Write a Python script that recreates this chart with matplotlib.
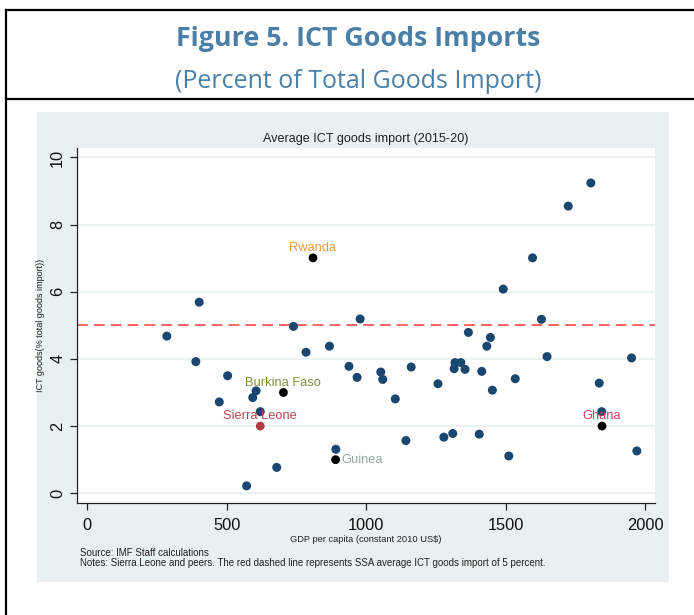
"""
ICT goods imports scatter, Sierra Leone and peers
"""

import matplotlib
matplotlib.use("Agg")
import matplotlib.pyplot as plt
from matplotlib.patches import Rectangle
from matplotlib.lines import Line2D

# peers (GDP per capita, ICT goods share of imports)
peer_gdp = [285, 401, 389, 503, 473, 605, 593, 620, 679, 571, 739, 784, 868,
            978, 938, 967, 891, 1052, 1059, 1161, 1104, 1142, 1257, 1318, 1339,
            1315, 1354, 1414, 1366, 1445, 1432, 1452, 1534, 1278, 1310, 1405,
            1511, 1491, 1596, 1628, 1648, 1724, 1805, 1835, 1844, 1951, 1970]
peer_ict = [4.68, 5.69, 3.92, 3.50, 2.72, 3.05, 2.85, 2.43, 0.77, 0.22, 4.97,
            4.20, 4.38, 5.19, 3.78, 3.45, 1.31, 3.61, 3.39, 3.76, 2.81, 1.57,
            3.26, 3.89, 3.89, 3.71, 3.69, 3.63, 4.79, 4.64, 4.38, 3.07, 3.41,
            1.67, 1.78, 1.76, 1.11, 6.08, 7.01, 5.18, 4.07, 8.55, 9.24, 3.28,
            2.43, 4.03, 1.26]

# labelled countries
hl_names = ["Rwanda", "Burkina Faso", "Sierra Leone", "Guinea", "Ghana"]
hl_gdp = [809, 703, 620, 890, 1845]
hl_ict = [7.01, 3.0, 2.0, 1.0, 2.0]
hl_label_col = ["#ec9a3c", "#7f8f3c", "#b8474f", "#93ab9e", "#d93a62"]
hl_marker_col = ["black", "black", "#b03a44", "black", "black"]

ssa_avg = 5
yticks = [0, 2, 4, 6, 8, 10]
xticks = [0, 500, 1000, 1500, 2000]

W, H = 694, 615
fig = plt.figure(figsize=(W / 100, H / 100), dpi=100)

def fx(px):
    return px / W

def fy(py):
    return 1 - py / H

# outer box lines
for (x0, y0, x1, y1) in [(6, 10, 694, 10), (6, 99, 694, 99), (6, 10, 6, 615)]:
    fig.add_artist(Line2D([fx(x0), fx(x1)], [fy(y0), fy(y1)], color="black",
                          lw=1.6, transform=fig.transFigure))

# titles
tcol = "#4a7fa8"
fig.text(fx(358), fy(39.5), "Figure 5. ICT Goods Imports", ha="center", va="center",
         fontsize=19.3, fontweight="bold", color=tcol, family="Open Sans")
fig.text(fx(358), fy(81), "(Percent of Total Goods Import)", ha="center", va="center",
         fontsize=18, color=tcol, family="Open Sans")

# graph region background
fig.patches.append(Rectangle((fx(37), fy(582)), fx(669) - fx(37), fy(112) - fy(582),
                             transform=fig.transFigure, facecolor="#e9f0f3",
                             edgecolor="none", zorder=0))

ax = fig.add_axes([fx(77), fy(503), fx(655) - fx(77), fy(147.7) - fy(503)])
ax.set_zorder(2)
ax.set_facecolor("white")
ax.set_xlim(-37, 2035)
ax.set_ylim(-0.29, 10.29)

for s in ["top", "right"]:
    ax.spines[s].set_visible(False)
for s in ["left", "bottom"]:
    ax.spines[s].set_color("#222222")
    ax.spines[s].set_linewidth(0.9)

ax.set_yticks(yticks)
ax.set_xticks(xticks)
ax.tick_params(length=5, width=0.9, color="#222222", labelsize=11.8,
               labelcolor="#111111")
ax.tick_params(axis="x", pad=6)
ax.tick_params(axis="y", pad=3.5)
for lab in ax.get_yticklabels():
    lab.set_rotation(90)
    lab.set_va("center")
for lab in ax.get_xticklabels() + ax.get_yticklabels():
    lab.set_family("Liberation Sans")

ax.grid(axis="y", color="#eaf2f3", lw=1.5)
ax.set_axisbelow(True)

ax.axhline(ssa_avg, color="#ff4a4a", lw=1.2, dashes=(6.5, 3.6), zorder=2)

ax.scatter(peer_gdp, peer_ict, s=42, color="#1a476f", edgecolors="none", zorder=3)
ax.scatter(hl_gdp, hl_ict, s=40, color=hl_marker_col, edgecolors="none", zorder=4)

for name, x, y, c in zip(hl_names, hl_gdp, hl_ict, hl_label_col):
    if name == "Guinea":
        ax.annotate(name, (x, y), xytext=(4, 0), textcoords="offset points",
                    ha="left", va="center", fontsize=9.3, color=c,
                    family="Liberation Sans", zorder=5)
    else:
        ax.annotate(name, (x, y), xytext=(0, 7), textcoords="offset points",
                    ha="center", va="center", fontsize=9.3, color=c,
                    family="Liberation Sans", zorder=5)

ax.set_title("Average ICT goods import (2015-20)", fontsize=9.1, color="#222222",
             family="Liberation Sans", pad=4)
ax.set_xlabel("GDP per capita (constant 2010 US$)", fontsize=6.7, color="#222222",
              family="Liberation Sans", labelpad=1)
ax.set_ylabel("ICT goods(% total goods import))", fontsize=6.5, color="#222222",
              family="Liberation Sans", labelpad=4)

fig.text(fx(80), fy(552.7), "Source: IMF Staff calculations", ha="left", va="center",
         fontsize=7.0, color="#222222", family="Liberation Sans")
fig.text(fx(80), fy(563.3),
         "Notes: Sierra Leone and peers. The red dashed line represents SSA average "
         "ICT goods import of 5 percent.", ha="left", va="center",
         fontsize=7.0, color="#222222", family="Liberation Sans")

fig.savefig("out.png", dpi=100)
